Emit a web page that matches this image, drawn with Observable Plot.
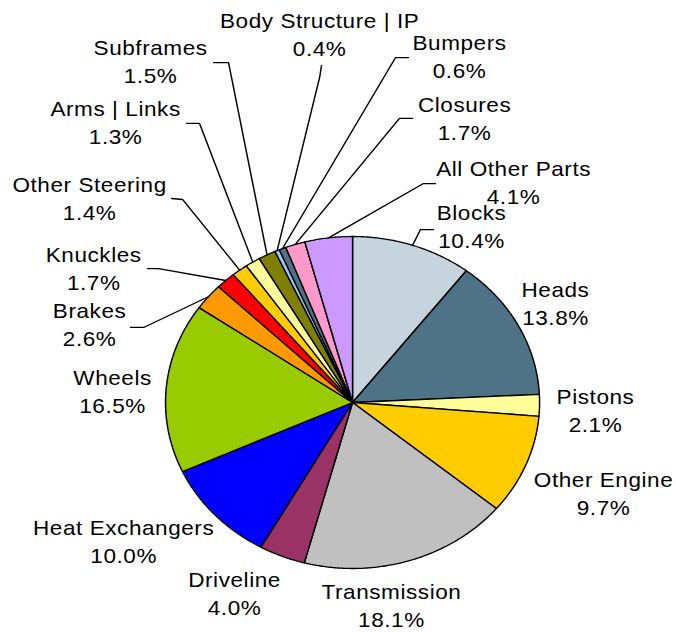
<!DOCTYPE html>
<html>
<head>
<meta charset="utf-8">
<script src="https://cdn.jsdelivr.net/npm/d3@7"></script>
<script src="https://cdn.jsdelivr.net/npm/@observablehq/plot@0.6"></script>
<style>
  html, body { margin: 0; padding: 0; background: #fff; }
  #chart svg { display: block; }
</style>
</head>
<body>
<div id="chart"></div>
<script>
// ---- data (clockwise from 12 o'clock) ----
const categories = [
  "Blocks", "Heads", "Pistons", "Other Engine", "Transmission", "Driveline",
  "Heat Exchangers", "Wheels", "Brakes", "Knuckles", "Other Steering",
  "Arms | Links", "Subframes", "Body Structure | IP", "Bumpers", "Closures",
  "All Other Parts"
];
const shares = [10.4, 13.8, 2.1, 9.7, 18.1, 4.0, 10.0, 16.5, 2.6, 1.7, 1.4, 1.3, 1.5, 0.4, 0.6, 1.7, 4.1];
const colors = [
  "#C6D4DE", "#4E7387", "#FFFF99", "#FFCC00", "#C0C0C0", "#993366",
  "#0000FF", "#99CC00", "#FF9900", "#FF0000", "#FFCC00",
  "#FFFF99", "#808000", "#99CCFF", "#4E7387", "#FF99CC", "#CC99FF"
];

// ---- label layout, in pie-radius units (centre = 0,0; y up) ----
const labelX = [0.636, 1.085, 1.299, 1.342, 0.208, -0.631, -1.224, -1.283, -1.406, -1.384, -1.406, -1.267, -1.080, -0.176, 0.572, 0.599, 0.861];
const labelY = [0.928, 0.464, -0.175, -0.675, -1.355, -1.283, -0.964, -0.066, 0.343, 0.675, 1.102, 1.560, 1.922, 2.090, 1.952, 1.584, 1.193];

// leader lines: tick start (a) and elbow (b), then to slice mid-arc
const leaderSpec = [
  {name: "Blocks",             ax: 0.433,  ay: 1.042, bx: 0.363,  by: 1.042},
  {name: "All Other Parts",    ax: 0.444,  ay: 1.319, bx: 0.379,  by: 1.319},
  {name: "Closures",           ax: 0.321,  ay: 1.711, bx: 0.251,  by: 1.711},
  {name: "Bumpers",            ax: 0.299,  ay: 2.078, bx: 0.230,  by: 2.078},
  {name: "Body Structure | IP",ax: -0.166, ay: 2.030, bx: -0.176, by: 1.958},
  {name: "Subframes",          ax: -0.743, ay: 2.048, bx: -0.663, by: 2.048},
  {name: "Arms | Links",       ax: -0.887, ay: 1.681, bx: -0.818, by: 1.681},
  {name: "Other Steering",     ax: -0.967, ay: 1.229, bx: -0.909, by: 1.223},
  {name: "Knuckles",           ax: -1.096, ay: 0.807, bx: -1.037, by: 0.807},
  {name: "Brakes",             ax: -1.187, ay: 0.452, bx: -1.117, by: 0.452}
];

// ---- geometry ----
const arcs = d3.pie().sort(null).value(d => d)(shares);
const slicePts = [];
arcs.forEach((a, i) => {
  const name = categories[i], color = colors[i];
  slicePts.push({name, color, x: 0, y: 0});
  const n = Math.max(2, Math.ceil((a.endAngle - a.startAngle) / (Math.PI / 360)));
  for (let j = 0; j <= n; j++) {
    const t = a.startAngle + (a.endAngle - a.startAngle) * j / n;
    slicePts.push({name, color, x: Math.sin(t), y: Math.cos(t)});
  }
  slicePts.push({name, color, x: 0, y: 0});
});

const leaderPts = [];
leaderSpec.forEach(l => {
  const a = arcs[categories.indexOf(l.name)];
  const m = (a.startAngle + a.endAngle) / 2;
  leaderPts.push({name: l.name, x: l.ax, y: l.ay});
  leaderPts.push({name: l.name, x: l.bx, y: l.by});
  leaderPts.push({name: l.name, x: Math.sin(m), y: Math.cos(m)});
});

const labels = categories.map((c, i) => ({
  text: c + "\n" + shares[i].toFixed(1) + "%",
  x: labelX[i], y: labelY[i]
}));

// Drawing space is 600 wide, then stretched to 676 (the reference is horizontally stretched)
const W = 600, H = 632, R = 166, CX = 312.42, CY = 402;

const svg = Plot.plot({
  width: W, height: H,
  margin: 0,
  x: {type: "linear", domain: [-CX / R, (W - CX) / R], range: [0, W], axis: null},
  y: {type: "linear", domain: [(CY - H) / R, CY / R], range: [H, 0], axis: null},
  color: {type: "identity"},
  marks: [
    Plot.line(slicePts, {x: "x", y: "y", z: "name", fill: "color", stroke: "#000", strokeWidth: 1.3, strokeLinejoin: "round"}),
    Plot.line(leaderPts, {x: "x", y: "y", z: "name", stroke: "#000", strokeWidth: 1.3}),
    Plot.text(labels, {x: "x", y: "y", text: "text", fontSize: 20, fontFamily: "'Liberation Sans', Arial, sans-serif",
      lineAnchor: "bottom", lineHeight: 1.4, textAnchor: "middle", fill: "#000"})
  ]
});

svg.setAttribute("width", 676);
svg.setAttribute("height", 632);
svg.setAttribute("preserveAspectRatio", "none");
svg.style.cssText = "width:676px;height:632px;max-width:none;background:#fff;letter-spacing:0.5px;";
document.getElementById("chart").appendChild(svg);
</script>
</body>
</html>
